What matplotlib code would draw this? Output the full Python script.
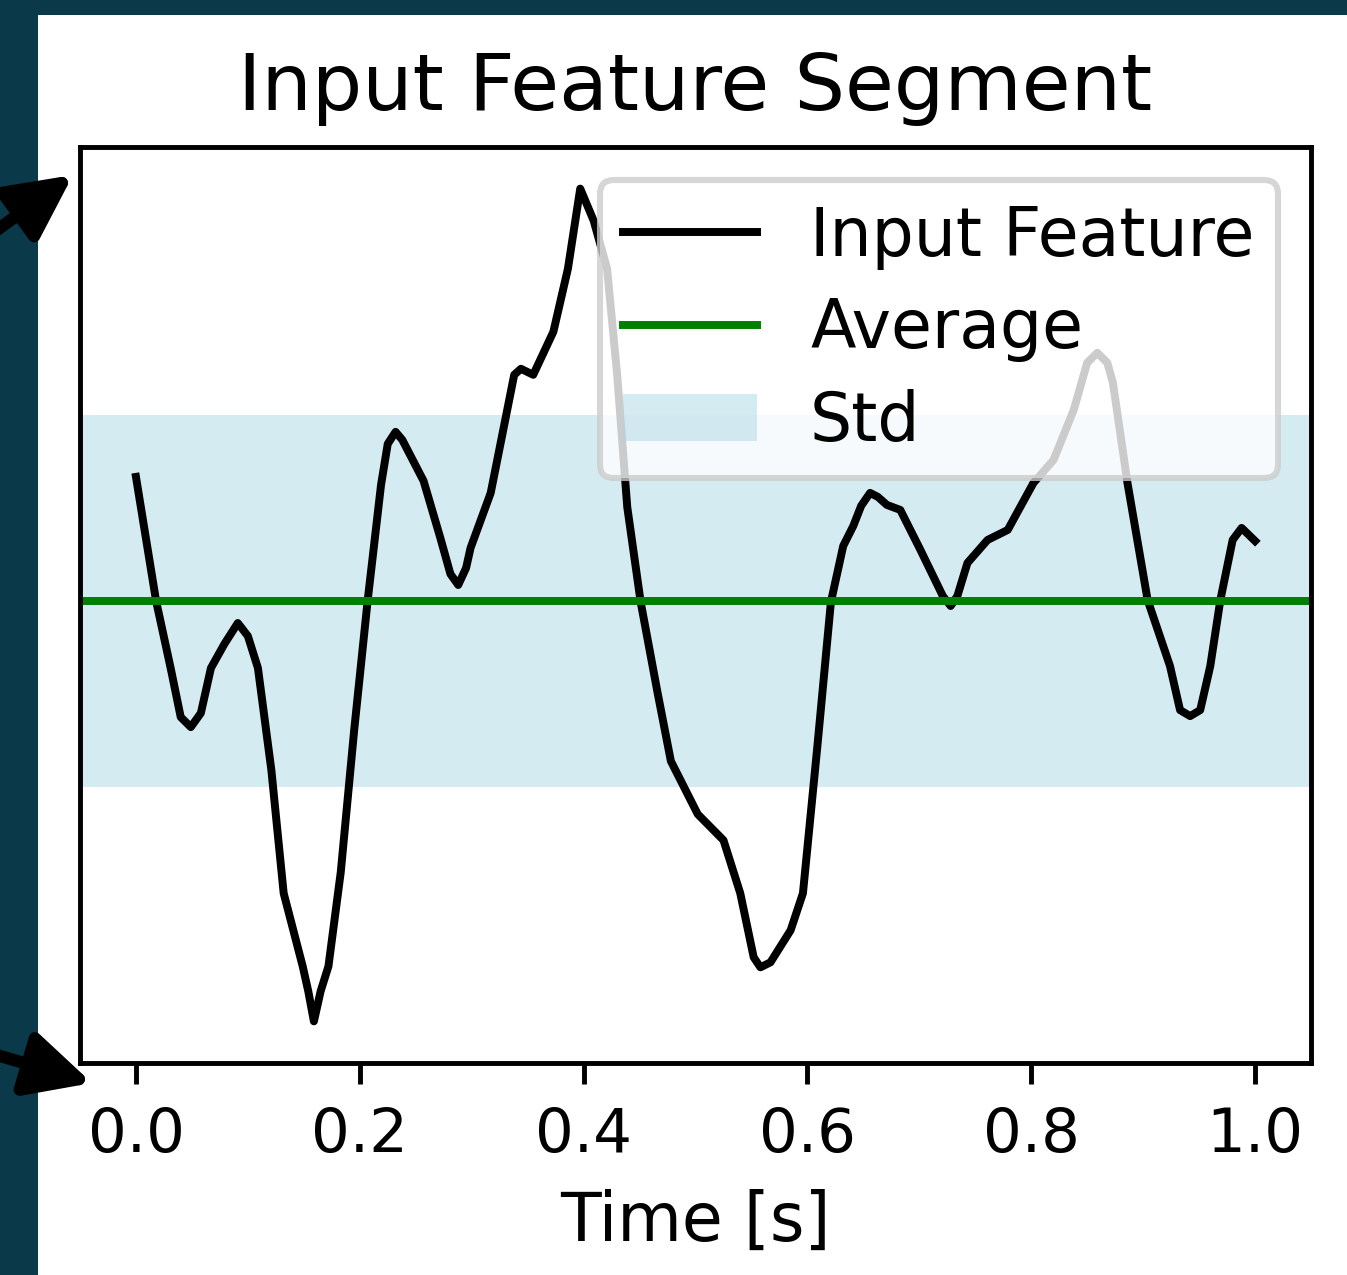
import matplotlib
matplotlib.use("Agg")
import matplotlib.pyplot as plt
from matplotlib.patches import Rectangle, FancyArrowPatch

# values (time in s, feature in arbitrary units)
time = [0.000, 0.018, 0.031, 0.040, 0.049, 0.058, 0.067, 0.079, 0.091, 0.100,
        0.109, 0.121, 0.132, 0.149, 0.154, 0.159, 0.165, 0.172, 0.183, 0.195,
        0.207, 0.219, 0.225, 0.232, 0.238, 0.257, 0.272, 0.281, 0.288, 0.295,
        0.299, 0.317, 0.338, 0.344, 0.355, 0.373, 0.386, 0.397, 0.409, 0.421,
        0.430, 0.439, 0.451, 0.466, 0.478, 0.502, 0.525, 0.540, 0.552, 0.558,
        0.567, 0.585, 0.596, 0.609, 0.621, 0.632, 0.641, 0.648, 0.656, 0.663,
        0.671, 0.683, 0.701, 0.721, 0.728, 0.734, 0.743, 0.761, 0.779, 0.802,
        0.820, 0.838, 0.850, 0.859, 0.868, 0.873, 0.886, 0.904, 0.924, 0.933,
        0.942, 0.951, 0.960, 0.969, 0.980, 0.988, 1.000]
feature = [1.24, 0.00, -0.67, -1.16, -1.26, -1.12, -0.67, -0.43, -0.22, -0.35,
           -0.67, -1.69, -2.92, -3.65, -3.90, -4.20, -3.90, -3.65, -2.71, -1.29,
           0.00, 1.16, 1.57, 1.69, 1.61, 1.20, 0.63, 0.27, 0.16, 0.33,
           0.53, 1.08, 2.26, 2.32, 2.26, 2.69, 3.32, 4.12, 3.80, 3.32,
           2.26, 0.94, -0.01, -0.91, -1.60, -2.13, -2.39, -2.92, -3.56, -3.66,
           -3.61, -3.29, -2.92, -1.44, -0.01, 0.55, 0.75, 0.95, 1.08, 1.04,
           0.96, 0.91, 0.51, 0.05, -0.05, 0.05, 0.38, 0.61, 0.71, 1.18,
           1.41, 1.91, 2.38, 2.48, 2.38, 2.18, 1.18, 0.01, -0.65, -1.09,
           -1.15, -1.09, -0.65, 0.01, 0.61, 0.73, 0.60]
average = 0.0
std = 1.86

W, H, DPI = 1347, 1275, 440
fig = plt.figure(figsize=(W / DPI, H / DPI), dpi=DPI, facecolor="#0a3a4a")

# white page area (screenshot has a dark strip on the left and top)
fig.add_artist(Rectangle((38 / W, 0), 1, 1 - 15 / H, transform=fig.transFigure,
                         facecolor="white", edgecolor="none", zorder=0))

ax = fig.add_axes([80 / W, 1 - 1063 / H, 1231 / W, 916 / H])
ax.plot(time, feature, color="black", lw=1.3, label="Input Feature")
ax.axhline(average, color="green", lw=1.3, label="Average")
ax.axhspan(average - std, average + std, facecolor="lightblue", edgecolor="none",
           alpha=0.5, label="Std")
ax.set_yticks([])
ax.set_xticks([0.0, 0.2, 0.4, 0.6, 0.8, 1.0])
ax.tick_params(labelsize=10)
ax.set_xlabel("Time [s]", fontsize=10.9)
ax.set_title("Input Feature Segment", fontsize=13)
ax.legend(loc="upper right", fontsize=10.9, labelspacing=0.4, borderpad=0.35)

# arrows pointing at the axes corners
for tail, tip in [((-10, 1040), (73, 1100)), ((-10, 222), (92, 192))]:
    fig.add_artist(FancyArrowPatch((tail[0] / W, tail[1] / H), (tip[0] / W, tip[1] / H),
                                   transform=fig.transFigure, arrowstyle="-|>",
                                   mutation_scale=22, lw=2, color="black",
                                   shrinkA=0, shrinkB=0, zorder=5))

fig.savefig("out.png", dpi=DPI, facecolor=fig.get_facecolor())
